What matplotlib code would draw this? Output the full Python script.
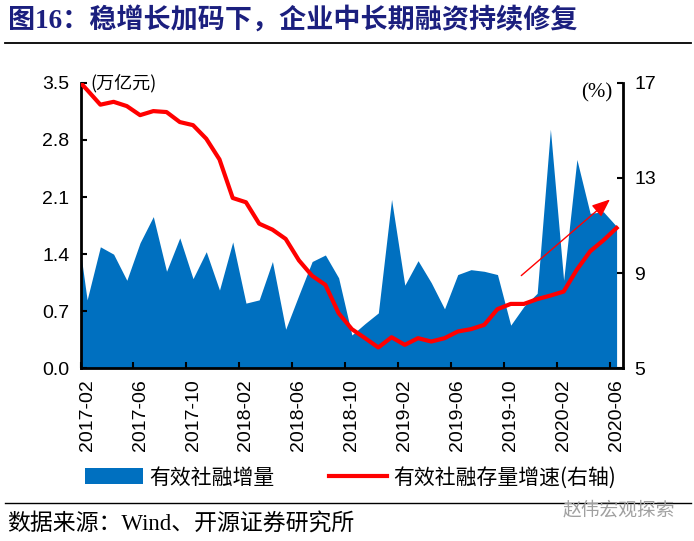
import matplotlib
matplotlib.use('Agg')
import matplotlib.pyplot as plt
import numpy as np
from matplotlib.patches import Patch
from matplotlib.lines import Line2D

# monthly data, 2017-01 .. 2020-06 (first month sits just left of the visible range)
months = ['2017-01', '2017-02', '2017-03', '2017-04', '2017-05', '2017-06',
          '2017-07', '2017-08', '2017-09', '2017-10', '2017-11', '2017-12',
          '2018-01', '2018-02', '2018-03', '2018-04', '2018-05', '2018-06',
          '2018-07', '2018-08', '2018-09', '2018-10', '2018-11', '2018-12',
          '2019-01', '2019-02', '2019-03', '2019-04', '2019-05', '2019-06',
          '2019-07', '2019-08', '2019-09', '2019-10', '2019-11', '2019-12',
          '2020-01', '2020-02', '2020-03', '2020-04', '2020-05', '2020-06']

# 有效社融增量 (万亿元)
flow = [2.02, 0.84, 1.49, 1.40, 1.08, 1.54, 1.86, 1.19, 1.60, 1.10, 1.43, 0.96,
        1.55, 0.80, 0.84, 1.31, 0.48, 0.90, 1.31, 1.39, 1.11, 0.41, 0.55, 0.68,
        2.07, 1.02, 1.32, 1.05, 0.73, 1.15, 1.21, 1.19, 1.15, 0.53, 0.76, 0.92,
        2.93, 1.08, 2.56, 1.90, 1.92, 1.74]

# 有效社融存量增速 (%)
growth = [17.3, 16.7, 16.08, 16.20, 16.02, 15.64, 15.81, 15.77, 15.35, 15.22, 14.65, 13.78,
          12.16, 11.98, 11.08, 10.83, 10.44, 9.54, 8.89, 8.51, 7.32, 6.65, 6.27, 5.88,
          6.31, 5.99, 6.27, 6.13, 6.27, 6.55, 6.65, 6.83, 7.49, 7.71, 7.71, 7.91,
          8.06, 8.23, 9.15, 9.92, 10.38, 10.90]

left_ticks = [0.0, 0.7, 1.4, 2.1, 2.8, 3.5]
right_ticks = [5, 9, 13, 17]

CJK = 'Noto Sans CJK SC'
SANS = 'Liberation Sans'
SERIF = 'Liberation Serif'
BLUE = '#0070C0'
RED = '#FF0000'

x = np.arange(len(months))

fig = plt.figure(figsize=(6.94, 5.41), dpi=100)
ax = fig.add_axes([0.116, 0.319, 0.782, 0.528])
ax2 = ax.twinx()

ax.fill_between(x, flow, 0, color=BLUE, linewidth=0)
ax2.plot(x, growth, color=RED, linewidth=3.0, solid_joinstyle='round')

# trend arrow
ax2.annotate('', xy=(40.5, 12.1), xytext=(33.8, 8.9),
             arrowprops=dict(arrowstyle='-|>,head_length=1.1,head_width=0.45',
                             color=RED, lw=1.0, shrinkA=0, shrinkB=0))

ax.set_xlim(0.5, 41.5)
ax.set_ylim(0, 3.5)
ax2.set_ylim(5, 17)

ax.set_yticks(left_ticks)
ax.set_yticklabels(['%.1f' % v for v in left_ticks], family=SANS, fontsize=14)
ax2.set_yticks(right_ticks)
ax2.set_yticklabels([str(v) for v in right_ticks], family=SANS, fontsize=14)

# ticks between months, labels on every 4th month
ax.set_xticks(np.arange(0.5, 41, 4))
ax.set_xticklabels([])
lab_pos = np.arange(1, 42, 4)
ax.set_xticks(lab_pos, minor=True)
ax.set_xticklabels([months[i] for i in lab_pos], minor=True, rotation=90,
                   family=SANS, fontsize=14)
ax.tick_params(axis='x', which='minor', length=0, pad=8)
ax.tick_params(axis='x', which='major', direction='in', length=4, width=1.5)
ax.tick_params(axis='y', direction='in', length=4, width=1.5, pad=8)
ax2.tick_params(axis='y', direction='in', length=4, width=1.5, pad=8)

for a in (ax, ax2):
    a.spines['top'].set_visible(False)
    for s in ('left', 'right', 'bottom'):
        a.spines[s].set_linewidth(2.0)
        a.spines[s].set_color('black')
ax.spines['right'].set_visible(False)
ax2.spines['left'].set_visible(False)
ax2.spines['bottom'].set_visible(False)

ax.text(0.018, 1.0, '(万亿元)', transform=ax.transAxes, family=CJK,
        fontsize=13, va='center', ha='left')
ax2.text(0.98, 0.965, '(%)', transform=ax.transAxes, family=SERIF,
         fontsize=15, va='center', ha='right')

# title and rules
fig.text(0.012, 0.963, '图16：稳增长加码下，企业中长期融资持续修复',
         family=[SERIF, CJK], fontsize=19.5, fontweight='bold', color='#1B1F7E',
         va='center', ha='left')
fig.add_artist(Line2D([0.007, 0.995], [0.921, 0.921], color='black', lw=1.3))
fig.add_artist(Line2D([0.007, 0.995], [0.070, 0.070], color='black', lw=1.0))

handles = [Patch(facecolor=BLUE, edgecolor='none'),
           Line2D([], [], color=RED, lw=3.0)]
fig.legend(handles, ['有效社融增量', '有效社融存量增速(右轴)'],
           loc='center left', bbox_to_anchor=(0.095, 0.117), ncol=2,
           frameon=False, prop={'family': CJK, 'size': 15},
           handlelength=2.8, handleheight=0.8, handletextpad=0.3,
           columnspacing=2.6)

fig.text(0.01, 0.031, '数据来源：Wind、开源证券研究所', family=[SERIF, CJK],
         fontsize=16.5, va='center', ha='left')
fig.text(0.81, 0.057, '赵伟宏观探索', family=CJK, fontsize=13.5,
         color='#A0A0A0', va='center', ha='left')

fig.savefig('out.png', dpi=100)
